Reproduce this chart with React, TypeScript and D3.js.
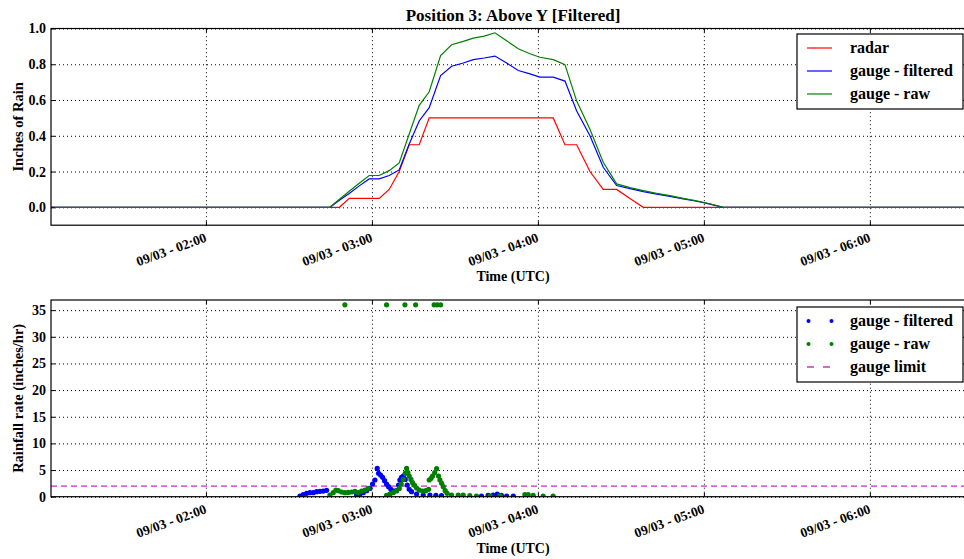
import React, { useEffect, useRef } from 'react';
import * as d3 from 'd3';

// Accumulated rain (inches), all three series share one time base
const lineTimes = [
  '01:04:00', '02:44:49', '02:48:15', '02:51:48', '02:55:25', '02:59:02', '03:02:38', '03:06:15',
  '03:09:52', '03:13:29', '03:17:06', '03:20:43', '03:24:50', '03:28:49', '03:33:01', '03:36:38',
  '03:40:36', '03:44:28', '03:48:42', '03:52:54', '03:57:07', '04:00:44', '04:05:33', '04:09:47',
  '04:14:01', '04:18:49', '04:23:37', '04:28:28', '04:33:17', '04:38:06', '04:42:56', '04:47:44',
  '04:52:32', '04:57:22', '05:02:10', '05:06:59', '06:38:00'
];
const radarInches = [
  0, 0, 0, 0.05, 0.05, 0.05, 0.05, 0.1, 0.2, 0.35, 0.35, 0.5, 0.5, 0.5, 0.5, 0.5,
  0.5, 0.5, 0.5, 0.5, 0.5, 0.5, 0.5, 0.35, 0.35, 0.2, 0.1, 0.1, 0.05, 0, 0, 0,
  0, 0, 0, 0, 0
];
const gaugeFilteredInches = [
  0, 0, 0.04, 0.077, 0.12, 0.159, 0.159, 0.178, 0.209, 0.354, 0.483, 0.557, 0.737, 0.789, 0.807, 0.826,
  0.835, 0.846, 0.807, 0.765, 0.746, 0.728, 0.728, 0.706, 0.539, 0.4, 0.224, 0.122, 0.105, 0.088, 0.074, 0.061,
  0.047, 0.034, 0.018, 0, 0
];
const gaugeRawInches = [
  0, 0, 0.045, 0.09, 0.135, 0.178, 0.178, 0.205, 0.248, 0.41, 0.57, 0.646, 0.848, 0.909, 0.928, 0.946,
  0.957, 0.976, 0.931, 0.887, 0.859, 0.839, 0.826, 0.798, 0.594, 0.437, 0.252, 0.131, 0.11, 0.093, 0.078, 0.065,
  0.05, 0.036, 0.02, 0, 0
];

// Rainfall rate samples (inches/hr)
const filteredRateTimes = [
  '02:33:59', '02:35:11', '02:36:23', '02:37:35', '02:38:48', '02:40:00', '02:41:12', '02:42:24', '02:43:37',
  '02:54:28', '02:55:40', '02:56:52', '02:58:05', '02:59:17', '03:00:14', '03:01:05', '03:01:55', '03:02:24', '03:03:08',
  '03:03:51', '03:04:34', '03:05:18', '03:06:01', '03:06:52', '03:07:57', '03:08:55', '03:09:38', '03:10:07', '03:10:43',
  '03:11:20', '03:12:03', '03:12:46', '03:13:29', '03:14:20', '03:16:09', '03:18:33', '03:20:58', '03:23:08', '03:25:10',
  '03:39:37', '03:42:00', '03:43:48', '03:45:18', '03:46:48', '03:48:42', '03:51:06'
];
const filteredRates = [
  0.13, 0.38, 0.63, 0.75, 0.75, 0.94, 1.0, 1.06, 1.19,
  0.31, 0.5, 0.75, 1.13, 1.56, 2.38, 3.13, 5.31, 4.38, 4.06,
  3.63, 3.0, 2.38, 1.88, 1.38, 1.06, 1.13, 2.19, 3.13, 3.63,
  3.88, 3.25, 2.19, 1.38, 0.94, 0.5, 0.31, 0.31, 0.25, 0.19,
  0.13, 0.25, 0.31, 0.5, 0.25, 0.13, 0.13
];
const rawRateTimes = [
  '02:44:49', '02:46:01', '02:46:59', '02:47:50', '02:49:02', '02:50:14', '02:51:26', '02:52:39', '02:53:51',
  '02:55:04', '02:56:16', '02:57:28', '02:58:41',
  '03:05:18', '03:06:30', '03:07:42', '03:08:54', '03:09:54', '03:10:36', '03:11:20', '03:12:03', '03:12:32',
  '03:13:00', '03:13:30', '03:14:06', '03:14:42', '03:15:24', '03:16:09', '03:17:06', '03:18:18', '03:19:30', '03:20:30',
  '03:20:42', '03:21:24', '03:21:54', '03:22:42', '03:23:24', '03:24:06', '03:24:36', '03:25:12', '03:25:48',
  '03:26:30', '03:27:12',
  '03:28:48', '03:31:12', '03:33:00', '03:35:24', '03:37:48', '03:42:42', '03:46:18', '03:55:18', '03:56:30',
  '03:58:18', '04:01:54', '04:05:30',
  '02:50:14', '03:05:18', '03:11:56', '03:15:48', '03:22:30', '03:23:36', '03:24:50'
];
const rawRates = [
  0.31, 0.75, 1.25, 1.13, 0.88, 0.75, 0.81, 0.88, 1.0,
  0.75, 1.06, 1.25, 1.56,
  0.25, 0.5, 0.75, 1.13, 1.56, 2.38, 3.25, 4.38, 5.31,
  4.5, 3.88, 3.25, 2.63, 2.13, 1.63, 1.25, 1.06, 1.13, 1.38,
  3.13, 3.44, 3.88, 4.5, 5.25, 3.88, 3.13, 2.5, 1.88,
  1.13, 0.63,
  0.31, 0.31, 0.31, 0.19, 0.13, 0.13, 0.19, 0.38, 0.38,
  0.25, 0.13, 0.13,
  36, 36, 36, 36, 36, 36, 36
];
const gaugeLimit = 2;

const dayLabel = '09/03';
const timeExtent = ['01:04:00', '06:38:00'];
const hourTicks = ['02:00:00', '03:00:00', '04:00:00', '05:00:00', '06:00:00'];
const inchExtent = [-0.1, 1.0];
const inchTicks = [0, 0.2, 0.4, 0.6, 0.8, 1.0];
const rateExtent = [0, 36.9];
const rateTicks = [0, 5, 10, 15, 20, 25, 30, 35];

const App = () => {
  const width = 964;
  const height = 559;
  const margin = { left: 51, right: -11 };
  const topPanel = { top: 28.5, bottom: 225.2 };
  const bottomPanel = { top: 300, bottom: 496.7 };
  const svgRef = useRef<SVGSVGElement | null>(null);

  useEffect(() => {
    const svg = d3.select(svgRef.current);
    svg.selectAll('*').remove();

    const font = "'Liberation Serif', 'DejaVu Serif', serif";
    const parseTime = d3.timeParse('%m/%d %H:%M:%S');
    const toDate = (t: string) => parseTime(`${dayLabel} ${t}`) as Date;
    const tickFormat = d3.timeFormat('%m/%d - %H:%M');

    const x = d3
      .scaleTime()
      .domain(timeExtent.map(toDate))
      .range([margin.left, width - margin.right]);
    const [x0, x1] = x.range();

    const yInches = d3.scaleLinear().domain(inchExtent).range([topPanel.bottom, topPanel.top]);
    const yRate = d3.scaleLinear().domain(rateExtent).range([bottomPanel.bottom, bottomPanel.top]);

    const defs = svg.append('defs');

    // Grid, clip and a layer for the data of one panel
    const setupPanel = (panel: { top: number; bottom: number }, y: d3.ScaleLinear<number, number>, yTicks: number[], clipId: string) => {
      defs
        .append('clipPath')
        .attr('id', clipId)
        .append('rect')
        .attr('x', x0)
        .attr('y', panel.top)
        .attr('width', x1 - x0)
        .attr('height', panel.bottom - panel.top);

      const grid = svg.append('g');
      grid
        .append('g')
        .attr('transform', `translate(0,${panel.bottom})`)
        .call(
          d3.axisBottom(x)
            .tickValues(hourTicks.map(toDate))
            .tickSize(-(panel.bottom - panel.top))
            .tickFormat(() => '')
        );
      grid
        .append('g')
        .attr('transform', `translate(${x0},0)`)
        .call(
          d3.axisLeft(y)
            .tickValues(yTicks)
            .tickSize(-(x1 - x0))
            .tickFormat(() => '')
        );
      grid.selectAll('.domain').remove();
      grid
        .selectAll('line')
        .attr('stroke', '#000')
        .attr('stroke-width', 1)
        .attr('stroke-dasharray', '1,3');

      return svg.append('g').attr('clip-path', `url(#${clipId})`);
    };

    // Frame, inward ticks and labels
    const finishPanel = (panel: { top: number; bottom: number }, y: d3.ScaleLinear<number, number>, yTicks: number[], yFmt: (v: number) => string, yLabel: string) => {
      const axes = svg.append('g');
      const hours = hourTicks.map(toDate);

      const bottomAxis = axes
        .append('g')
        .attr('transform', `translate(0,${panel.bottom})`)
        .call(d3.axisBottom(x).tickValues(hours).tickSizeInner(-4).tickSizeOuter(0).tickFormat((d) => tickFormat(d as Date)));

      axes
        .append('g')
        .attr('transform', `translate(0,${panel.top})`)
        .call(d3.axisTop(x).tickValues(hours).tickSizeInner(-4).tickSizeOuter(0).tickFormat(() => ''));

      axes
        .append('g')
        .attr('transform', `translate(${x0},0)`)
        .call(d3.axisLeft(y).tickValues(yTicks).tickSizeInner(-4).tickSizeOuter(0).tickPadding(5).tickFormat((d) => yFmt(d as number)));

      axes
        .append('g')
        .attr('transform', `translate(${x1},0)`)
        .call(d3.axisRight(y).tickValues(yTicks).tickSizeInner(-4).tickSizeOuter(0).tickFormat(() => ''));

      axes.selectAll('.domain').remove();
      axes.selectAll('line').attr('stroke', '#000').attr('stroke-width', 1);
      axes
        .selectAll('text')
        .style('font-family', font)
        .style('font-size', '14px')
        .style('font-weight', 'bold')
        .attr('fill', '#000');

      // rotated date labels under the panel
      bottomAxis
        .selectAll('text')
        .attr('x', 0)
        .attr('y', 0)
        .attr('dy', 0)
        .attr('text-anchor', 'end')
        .attr('transform', 'translate(1,16) rotate(-20)')
        .style('font-size', '13.5px');

      svg
        .append('rect')
        .attr('x', x0)
        .attr('y', panel.top)
        .attr('width', x1 - x0)
        .attr('height', panel.bottom - panel.top)
        .attr('fill', 'none')
        .attr('stroke', '#000')
        .attr('stroke-width', 1.2);

      svg
        .append('text')
        .attr('transform', `translate(23,${(panel.top + panel.bottom) / 2}) rotate(-90)`)
        .attr('text-anchor', 'middle')
        .style('font-family', font)
        .style('font-size', '14.5px')
        .style('font-weight', 'bold')
        .text(yLabel);

      svg
        .append('text')
        .attr('x', (x0 + x1) / 2)
        .attr('y', panel.bottom + 56)
        .attr('text-anchor', 'middle')
        .style('font-family', font)
        .style('font-size', '14px')
        .style('font-weight', 'bold')
        .text('Time (UTC)');
    };

    const drawLegend = (top: number, items: { label: string; color: string; kind: 'line' | 'dots' | 'dash' }[]) => {
      const left = 797;
      const boxWidth = 166;
      const rowGap = 23;
      const legend = svg.append('g');
      legend
        .append('rect')
        .attr('x', left)
        .attr('y', top)
        .attr('width', boxWidth)
        .attr('height', items.length * rowGap + 6)
        .attr('fill', '#fff')
        .attr('stroke', '#000')
        .attr('stroke-width', 1.2);
      items.forEach((item, i) => {
        const cy = top + 14 + i * rowGap;
        if (item.kind === 'dots') {
          [left + 11.5, left + 34.5].forEach((cx) => {
            legend.append('circle').attr('cx', cx).attr('cy', cy).attr('r', 2).attr('fill', item.color);
          });
        } else {
          legend
            .append('line')
            .attr('x1', left + 10)
            .attr('x2', left + 35)
            .attr('y1', cy)
            .attr('y2', cy)
            .attr('stroke', item.color)
            .attr('stroke-width', item.kind === 'dash' ? 1.8 : 1.2)
            .attr('stroke-dasharray', item.kind === 'dash' ? '7,9' : null);
        }
        legend
          .append('text')
          .attr('x', left + 53)
          .attr('y', cy + 5)
          .style('font-family', font)
          .style('font-size', '16px')
          .style('font-weight', 'bold')
          .text(item.label);
      });
    };

    // Top panel: accumulated rain
    const topLayer = setupPanel(topPanel, yInches, inchTicks, 'clip-top');
    const lineSeries = [
      { values: radarInches, color: '#ff0000' },
      { values: gaugeFilteredInches, color: '#0000ff' },
      { values: gaugeRawInches, color: '#008000' }
    ];
    const line = d3
      .line<[Date, number]>()
      .x((d) => x(d[0]))
      .y((d) => yInches(d[1]));
    lineSeries.forEach((s) => {
      topLayer
        .append('path')
        .datum(lineTimes.map((t, i) => [toDate(t), s.values[i]] as [Date, number]))
        .attr('d', line)
        .attr('fill', 'none')
        .attr('stroke', s.color)
        .attr('stroke-width', 1.2);
    });
    finishPanel(topPanel, yInches, inchTicks, d3.format('.1f'), 'Inches of Rain');

    svg
      .append('text')
      .attr('x', (x0 + x1) / 2)
      .attr('y', 21)
      .attr('text-anchor', 'middle')
      .style('font-family', font)
      .style('font-size', '17px')
      .style('font-weight', 'bold')
      .text('Position 3: Above Y [Filtered]');

    drawLegend(34, [
      { label: 'radar', color: '#ff0000', kind: 'line' },
      { label: 'gauge - filtered', color: '#0000ff', kind: 'line' },
      { label: 'gauge - raw', color: '#008000', kind: 'line' }
    ]);

    // Bottom panel: rainfall rate
    const bottomLayer = setupPanel(bottomPanel, yRate, rateTicks, 'clip-bottom');
    bottomLayer
      .append('line')
      .attr('x1', x0)
      .attr('x2', x1)
      .attr('y1', yRate(gaugeLimit))
      .attr('y2', yRate(gaugeLimit))
      .attr('stroke', '#d966d9')
      .attr('stroke-width', 1.8)
      .attr('stroke-dasharray', '6,4');

    const scatterSeries = [
      { times: filteredRateTimes, values: filteredRates, color: '#0000ff' },
      { times: rawRateTimes, values: rawRates, color: '#008000' }
    ];
    scatterSeries.forEach((s) => {
      bottomLayer
        .append('g')
        .selectAll('circle')
        .data(s.times.map((t, i) => [toDate(t), s.values[i]] as [Date, number]))
        .enter()
        .append('circle')
        .attr('cx', (d) => x(d[0]))
        .attr('cy', (d) => yRate(d[1]))
        .attr('r', 2.6)
        .attr('fill', s.color);
    });
    finishPanel(bottomPanel, yRate, rateTicks, d3.format('d'), 'Rainfall rate (inches/hr)');

    drawLegend(307, [
      { label: 'gauge - filtered', color: '#0000ff', kind: 'dots' },
      { label: 'gauge - raw', color: '#008000', kind: 'dots' },
      { label: 'gauge limit', color: '#d966d9', kind: 'dash' }
    ]);
  }, []);

  return (
    <div style={{ position: 'absolute', left: 0, top: 0, width, height, overflow: 'hidden', background: '#fff' }}>
      <svg ref={svgRef} width={width} height={height}></svg>
    </div>
  );
};

export default App;
